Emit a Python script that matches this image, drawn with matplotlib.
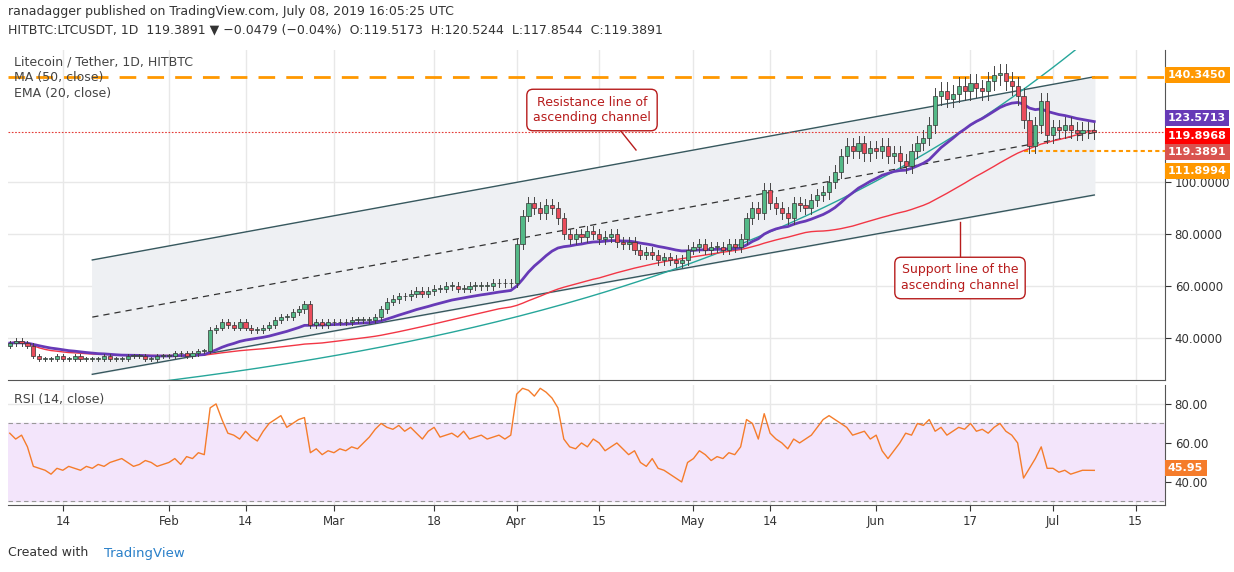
import matplotlib
matplotlib.use("Agg")
import matplotlib.pyplot as plt
import numpy as np
import pandas as pd

closes = [38,39,38,37,33,32,32,32,33,32,32,33,32,32,32,32,33,32,32,32,33,33,33,32,32,33,33,
          33,34,34,33,34,35,35,43,44,46,45,44,46,44,43,43,44,45,47,48,48,50,51,53,45,46,45,46,
          46,46,46,47,47,47,47,48,51,54,55,56,56,57,58,57,58,59,59,60,60,59,59,60,60,60,60,61,61,61,61,
          76,87,92,90,88,91,90,86,80,78,80,79,81,80,78,79,80,77,76,77,74,72,73,72,70,71,70,69,70,74,
          75,76,74,75,75,74,76,75,78,86,90,88,97,92,90,88,86,92,91,90,93,95,96,100,104,110,114,112,115,111,113,
          112,114,110,111,108,106,112,115,117,122,133,135,132,134,137,135,138,136,135,139,141,142,139,137,133,124,114,122,131,118,
          121,120,122,120,119,120,119.9,119.39]
rsi_values = [65,62,64,58,48,47,46,44,47,46,48,47,46,48,47,49,48,50,51,52,50,48,49,51,50,48,49,
              50,52,49,53,52,55,54,78,80,72,65,64,62,66,63,61,66,70,72,74,68,70,72,73,55,57,54,56,
              55,57,56,58,57,60,63,67,70,68,67,69,66,68,65,62,66,68,63,64,65,63,66,62,63,64,62,63,64,62,64,
              85,88,87,84,88,86,83,78,62,58,57,60,58,62,60,56,58,60,57,54,56,50,48,52,47,46,44,42,40,50,
              52,56,54,51,53,52,55,54,58,72,70,62,75,65,62,60,57,62,60,62,64,68,72,74,72,70,68,64,65,66,62,
              64,56,52,56,60,65,64,70,69,72,66,68,64,66,68,67,70,66,67,65,68,70,66,64,60,42,47,52,58,47,
              47,45,46,44,45,46,46,45.95]
start_date = "2019-01-05"
first_open = 37
price_ticks = [40, 60, 80, 100]
rsi_ticks = [40, 60, 80]
date_ticks = ["2019-01-14","2019-02-01","2019-02-14","2019-03-01","2019-03-18","2019-04-01",
              "2019-04-15","2019-05-01","2019-05-14","2019-06-01","2019-06-17","2019-07-01","2019-07-15"]
date_labels = ["14","Feb","14","Mar","18","Apr","15","May","14","Jun","17","Jul","15"]

dates = pd.date_range(start_date, periods=len(closes), freq="D")
c = np.array(closes, float)
o = np.concatenate([[first_open], c[:-1]])
hi = np.maximum(o, c) * 1.025
lo = np.minimum(o, c) * 0.975
s = pd.Series(c)
ema20 = s.ewm(span=20, adjust=False).mean().values
ma50 = s.rolling(50, min_periods=1).mean().values
x = matplotlib.dates.date2num(dates)

W, H = 1234, 572
fig = plt.figure(figsize=(W/100, H/100), dpi=100)
def axrect(x0, y0, x1, y1):
    return [x0/W, 1-y1/H, (x1-x0)/W, (y1-y0)/H]
ax = fig.add_axes(axrect(8, 50, 1165, 380))
ar = fig.add_axes(axrect(8, 385, 1165, 505), sharex=ax)
xmin = matplotlib.dates.date2num(pd.Timestamp("2019-01-05")) - 0.3
xmax = matplotlib.dates.date2num(pd.Timestamp("2019-07-20"))
ax.set_xlim(xmin, xmax)
ax.set_ylim(23.8, 150.8)
ar.set_ylim(28.2, 89.7)
tk = matplotlib.dates.date2num(pd.to_datetime(date_ticks))
for a in (ax, ar):
    for t in tk:
        a.axvline(t, color="#e8e8e8", lw=1, zorder=0)
    a.yaxis.tick_right()
    a.tick_params(axis="y", length=4, labelsize=8.5, colors="#333333", pad=3)
    for sp in ["top", "left"]:
        a.spines[sp].set_visible(False)
    a.spines["right"].set_color("#555555"); a.spines["bottom"].set_color("#555555")
ax.set_yticks(price_ticks, [f"{v:.4f}" for v in price_ticks])
for v in price_ticks:
    ax.axhline(v, color="#e8e8e8", lw=1, zorder=0)
ax.tick_params(axis="x", bottom=False, labelbottom=False)
ar.set_yticks(rsi_ticks, [f"{v:.2f}" for v in rsi_ticks])
for v in rsi_ticks:
    ar.axhline(v, color="#e8e8e8", lw=1, zorder=0)
ar.set_xticks(tk, date_labels)
ar.tick_params(axis="x", labelsize=8.5, colors="#333333", length=4)

def dn_(s_): return matplotlib.dates.date2num(pd.Timestamp(s_))
xa, xb = dn_("2019-01-19"), dn_("2019-07-08")
up0, up1 = 70, 140.5
lo0, lo1 = 26, 95
ax.fill_between([xa, xb], [lo0, lo1], [up0, up1], color="#eef0f3", zorder=1)
ax.plot([xa, xb], [up0, up1], color="#37585e", lw=1, zorder=2)
ax.plot([xa, xb], [lo0, lo1], color="#37585e", lw=1, zorder=2)
ax.plot([xa, xb], [48, 119], color="#333333", lw=0.9, ls=(0, (5, 4)), zorder=2)
xc0, xc1 = dn_("2019-01-26"), dn_("2019-06-28")
xs = np.linspace(xc0 - 20, dn_("2019-07-16"), 200)
ys = 22 * (139/22) ** ((xs - xc0)/(xc1 - xc0))
ax.plot(xs, ys, color="#26a69a", lw=1, zorder=2)
ax.axhline(140.345, color="#ff9800", lw=2, ls=(0, (6, 4)), zorder=2)
ax.plot([dn_("2019-06-26"), xmax], [111.9, 111.9], color="#ff9800", lw=1.5, ls=(0, (2, 1.5)), zorder=2)
ax.axhline(119.39, color="#e53935", lw=0.8, ls=(0, (1.5, 1.5)), zorder=2)
ax.plot(x, ma50, color="#f23645", lw=1, zorder=3)
ax.plot(x, ema20, color="#673ab7", lw=2, zorder=3)
for i in range(len(c)):
    col = "#53b987" if c[i] >= o[i] else "#eb4d5c"
    ax.plot([x[i], x[i]], [lo[i], hi[i]], color="#444444", lw=0.7, zorder=4)
    b0, b1 = min(o[i], c[i]), max(o[i], c[i])
    ax.add_patch(plt.Rectangle((x[i]-0.35, b0), 0.7, max(b1-b0, 0.3), facecolor=col,
                               edgecolor="#333333", lw=0.5, zorder=5))
ar.axhspan(30, 70, color="#f3e5fb", zorder=0)
ar.axhline(70, color="#999999", lw=0.8, ls=(0, (4, 3)))
ar.axhline(30, color="#999999", lw=0.8, ls=(0, (4, 3)))
ar.plot(x, rsi_values, color="#f57c2b", lw=1, zorder=3)

def rlabel(ypix, txt, bg, fg="white"):
    fig.text(1168/W, 1-ypix/H, txt, fontsize=8, color=fg, fontweight="bold",
             va="center", ha="left", bbox=dict(boxstyle="square,pad=0.3", fc=bg, ec="none"))
rlabel(75, "140.3450", "#ff9800")
rlabel(118, "123.5713", "#673ab7")
rlabel(136, "119.8968", "#ff0000")
rlabel(152, "119.3891", "#d9534f")
rlabel(171, "111.8994", "#ff9800")
rlabel(468, "45.95", "#f57c2b")

def callout(xp, yp, txt, lx0, ly0, lx1, ly1):
    fig.lines.append(plt.Line2D([lx0/W, lx1/W], [1-ly0/H, 1-ly1/H], color="#b71c1c", lw=1,
                                transform=fig.transFigure))
    fig.text(xp/W, 1-yp/H, txt, fontsize=9, color="#b71c1c", ha="center", va="center",
             linespacing=1.3, bbox=dict(boxstyle="round,pad=0.5", fc="white", ec="#b71c1c", lw=1))
callout(592, 110, "Resistance line of\nascending channel", 620, 130, 636, 150)
callout(960, 278, "Support line of the\nascending channel", 960, 258, 960, 222)

fig.text(8/W, 1-12/H, "ranadagger published on TradingView.com, July 08, 2019 16:05:25 UTC",
         fontsize=9, color="#333333", va="center")
fig.text(8/W, 1-30/H, "HITBTC:LTCUSDT, 1D  119.3891 \u25bc \u22120.0479 (\u22120.04%)  O:119.5173  H:120.5244  L:117.8544  C:119.3891",
         fontsize=9, color="#333333", va="center")
for yy, t in [(62, "Litecoin / Tether, 1D, HITBTC"), (78, "MA (50, close)"), (94, "EMA (20, close)")]:
    fig.text(14/W, 1-yy/H, t, fontsize=9, color="#444444", va="center")
fig.text(14/W, 1-400/H, "RSI (14, close)", fontsize=9, color="#444444", va="center")
fig.text(8/W, 1-553/H, "Created with", fontsize=9, color="#333333", va="center")
fig.text(104/W, 1-553/H, "TradingView", fontsize=9.5, color="#2a80c9", va="center")
fig.savefig("out.png", dpi=100, facecolor="white")
